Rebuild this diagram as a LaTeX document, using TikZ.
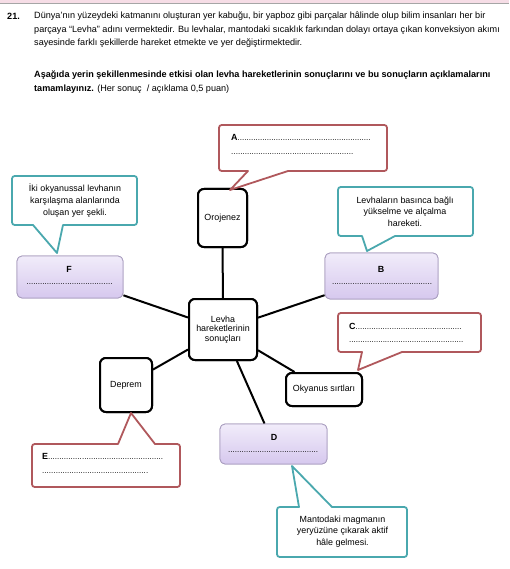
\documentclass[tikz,border=0pt]{standalone}
\usepackage{fontspec}
\setmainfont{Liberation Sans}
\definecolor{redc}{HTML}{B0585C}
\definecolor{tealc}{HTML}{4AA8AE}
\definecolor{purtop}{HTML}{F1ECFA}
\definecolor{purbot}{HTML}{D6C8EE}
\definecolor{purline}{HTML}{A89CBE}
\definecolor{pinkband}{HTML}{F6DDE6}
\newcommand\dotrow[1]{\hbox to #1{\xleaders\hbox{.}\hfill}}
% callout with tail at bottom: x1 yt x2 yb xL xR tipx tipy
\newcommand\calloutdown[8]{(#7,#8) -- (#6,#4) -- (#3-6,#4) .. controls (#3,#4) .. (#3,#4-6) -- (#3,#2+6) .. controls (#3,#2) .. (#3-6,#2) -- (#1+6,#2) .. controls (#1,#2) .. (#1,#2+6) -- (#1,#4-6) .. controls (#1,#4) .. (#1+6,#4) -- (#5,#4) -- cycle}
% callout with tail at top
\newcommand\calloutup[8]{(#7,#8) -- (#6,#2) -- (#3-6,#2) .. controls (#3,#2) .. (#3,#2+6) -- (#3,#4-6) .. controls (#3,#4) .. (#3-6,#4) -- (#1+6,#4) .. controls (#1,#4) .. (#1,#4-6) -- (#1,#2+6) .. controls (#1,#2) .. (#1+6,#2) -- (#5,#2) -- cycle}
\begin{document}
\begin{tikzpicture}[x=1pt,y=-1pt,
  hdr/.style={anchor=west,inner sep=0pt,font=\fontsize{9.1}{11}\selectfont},
  txt/.style={inner sep=0pt,align=center,font=\fontsize{8.9}{11.7}\selectfont},
  dotsty/.style={inner sep=0pt,font=\fontsize{8}{10}\selectfont},
  blackbox/.style={draw=black,line width=2pt,rounded corners=6pt,fill=white,inner sep=0pt,align=center,font=\fontsize{8.9}{10}\selectfont},
  purbox/.style={draw=purline,line width=0.8pt,rounded corners=5pt,top color=purtop,bottom color=purbot,inner sep=0pt},
  redcall/.style={draw=redc,line width=1.8pt,fill=white,line join=round},
  tealcall/.style={draw=tealc,line width=1.8pt,fill=white,line join=round},
  conn/.style={line width=2pt,draw=black}]
\useasboundingbox (0,0) rectangle (509,569);
% top band
\fill[pinkband] (0,0) rectangle (509,3);
\draw[gray!70,line width=0.8pt] (0,3.6) -- (509,3.6);
% header
\node[hdr] (num) at (7,16) {\textbf{21.}};
\node[hdr] (h1) at (34,16) {Dünya’nın yüzeydeki katmanını oluşturan yer kabuğu, bir yapboz gibi parçalar hâlinde olup bilim insanları her bir};
\node[hdr] (h2) at (34,30) {parçaya “Levha” adını vermektedir. Bu levhalar, mantodaki sıcaklık farkından dolayı ortaya çıkan konveksiyon akımı};
\node[hdr] (h3) at (34,43) {sayesinde farklı şekillerde hareket etmekte ve yer değiştirmektedir.};
\node[hdr] (h4) at (34,75) {\textbf{Aşağıda yerin şekillenmesinde etkisi olan levha hareketlerinin sonuçlarını ve bu sonuçların açıklamalarını}};
\node[hdr] (h5) at (34,89) {\textbf{tamamlayınız.} (Her sonuç\ \ / açıklama 0,5 puan)};
% boxes (placed first to define names)
\node[blackbox,minimum width=49pt,minimum height=58pt] (oro) at (222.5,218) {Orojenez};
\node[blackbox,minimum width=68pt,minimum height=61pt] (cen) at (223,329.5) {Levha\\[-0.5pt]hareketlerinin\\[-0.5pt]sonuçları};
\node[blackbox,minimum width=52pt,minimum height=54pt] (dep) at (126,385) {Deprem};
\node[blackbox,minimum width=76pt,minimum height=33pt] (oky) at (324,389.5) {Okyanus sırtları};
\node[purbox,minimum width=106pt,minimum height=42pt] (fbox) at (70,277) {};
\node[purbox,minimum width=113pt,minimum height=46pt] (bbox) at (381.5,276) {};
\node[purbox,minimum width=107pt,minimum height=40pt] (dbox) at (273.5,444) {};
% connectors
\draw[conn] (cen) -- (oro);
\draw[conn] (cen) -- (fbox);
\draw[conn] (cen) -- (bbox);
\draw[conn] (cen) -- (oky);
\draw[conn] (cen) -- (dep);
\draw[conn] (cen) -- (dbox);
% redraw boxes over connectors
\node[blackbox,minimum width=49pt,minimum height=58pt] at (oro) {Orojenez};
\node[blackbox,minimum width=68pt,minimum height=61pt] at (cen) {Levha\\[-0.5pt]hareketlerinin\\[-0.5pt]sonuçları};
\node[blackbox,minimum width=52pt,minimum height=54pt] at (dep) {Deprem};
\node[blackbox,minimum width=76pt,minimum height=33pt] at (oky) {Okyanus sırtları};
\node[purbox,minimum width=106pt,minimum height=42pt] at (fbox) {};
\node[purbox,minimum width=113pt,minimum height=46pt] at (bbox) {};
\node[purbox,minimum width=107pt,minimum height=40pt] at (dbox) {};
% purple box contents
\node[txt] (flab) at (69,269) {\textbf{F}};
\node[dotsty] (fdots) at (69.5,284) {\dotrow{86pt}};
\node[txt] (blab) at (381,269) {\textbf{B}};
\node[dotsty] (bdots) at (382,284) {\dotrow{100pt}};
\node[txt] (dlab) at (274,437) {\textbf{D}};
\node[dotsty] (ddots) at (273,452) {\dotrow{90pt}};
% callouts
\draw[redcall] \calloutdown{219}{125}{387}{171}{248}{288}{230}{190};
\node[txt,anchor=west] (atext) at (231,137) {\textbf{A}{\fontsize{8}{10}\selectfont\dotrow{133pt}}};
\node[dotsty,anchor=west] (adots) at (231,154) {\dotrow{122pt}};
\draw[tealcall] \calloutdown{12}{176}{137}{225}{33}{63}{57}{253};
\node[txt] (ftext) at (75,200.5) {İki okyanussal levhanın\\karşılaşma alanlarında\\oluşan yer şekli.};
\draw[tealcall] \calloutdown{338}{187}{473}{236}{362}{395}{367}{251};
\node[txt] (btext) at (405,211.5) {Levhaların basınca bağlı\\yükselme ve alçalma\\hareketi.};
\draw[redcall] \calloutdown{338}{313}{481}{352}{362}{402}{358}{370};
\node[txt,anchor=west] (ctext) at (349,326) {\textbf{C}{\fontsize{8}{10}\selectfont\dotrow{106pt}}};
\node[dotsty,anchor=west] (cdots) at (349,342) {\dotrow{114pt}};
\draw[redcall] \calloutup{32}{444}{180}{487}{118}{155}{131}{413};
\node[txt,anchor=west] (etext) at (42,456) {\textbf{E}{\fontsize{8}{10}\selectfont\dotrow{115pt}}};
\node[dotsty,anchor=west] (edots) at (42,473) {\dotrow{106pt}};
\draw[tealcall] \calloutup{277}{507}{407}{557}{299}{332}{292}{466};
\node[txt] (dtext) at (342.5,531.5) {Mantodaki magmanın\\yeryüzüne çıkarak aktif\\hâle gelmesi.};
\end{tikzpicture}
\end{document}
